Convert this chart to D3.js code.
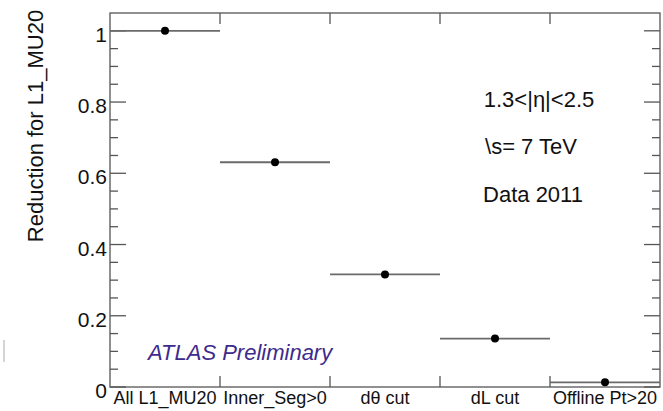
<!DOCTYPE html>
<html><head><meta charset="utf-8">
<script src="https://cdn.jsdelivr.net/npm/d3@7"></script>
<style>body{margin:0;background:#fff}svg{display:block}text{font-family:"Liberation Sans",Arial,sans-serif}</style>
</head><body>
<script>
const categories = ["All L1_MU20","Inner_Seg>0","d\u03b8 cut","dL cut","Offline Pt>20"];
const values = [1.0, 0.631, 0.316, 0.136, 0.013];
const yTicks = [0, 0.2, 0.4, 0.6, 0.8, 1];
const infoLines = ["1.3<|\u03b7|<2.5", "\\s= 7 TeV", "Data 2011"];

const W = 663, H = 411;
const m = {l:110, r:3, t:13, b:24};
const svg = d3.select("body").append("svg").attr("width", W).attr("height", H);

const x = d3.scaleBand().domain(categories).range([m.l, W - m.r]).padding(0);
const y = d3.scaleLinear().domain([0, 1.05]).range([H - m.b, m.t]);
const axisCol = "#555";
const FONT = "Liberation Sans, Arial, sans-serif";

// frame
svg.append("rect").attr("x", m.l).attr("y", m.t).attr("width", W - m.r - m.l).attr("height", H - m.b - m.t)
  .attr("fill", "none").attr("stroke", axisCol).attr("stroke-width", 1.3);

// left/right axis major + minor ticks
const minor = d3.range(0, 1.0001, 0.05);
minor.forEach(v => {
  const isMaj = Math.abs(v * 5 - Math.round(v * 5)) < 1e-6;
  const len = isMaj ? 16 : 8;
  svg.append("line").attr("x1", m.l).attr("x2", m.l + len).attr("y1", y(v)).attr("y2", y(v)).attr("stroke", axisCol).attr("stroke-width", 1.3);
  svg.append("line").attr("x1", W - m.r).attr("x2", W - m.r - len).attr("y1", y(v)).attr("y2", y(v)).attr("stroke", axisCol).attr("stroke-width", 1.3);
});
const yAxis = d3.axisLeft(y).tickValues(yTicks).tickSize(0).tickPadding(3).tickFormat(d => d === 0 ? "0" : d === 1 ? "1" : d3.format(".1f")(d));
const ya = svg.append("g").attr("transform", `translate(${m.l},0)`).call(yAxis);
ya.select(".domain").remove();
ya.selectAll("text").attr("font-size", 21).attr("fill", "#111").attr("font-family", FONT).attr("dy", "0.5em");

// bin edge ticks top & bottom
const edges = categories.slice(1).map(c => x(c));
edges.forEach(e => {
  svg.append("line").attr("x1", e).attr("x2", e).attr("y1", H - m.b).attr("y2", H - m.b - 11).attr("stroke", axisCol).attr("stroke-width", 1.3);
  svg.append("line").attr("x1", e).attr("x2", e).attr("y1", m.t).attr("y2", m.t + 11).attr("stroke", axisCol).attr("stroke-width", 1.3);
});

// category labels
const xAxis = d3.axisBottom(x).tickSize(0).tickPadding(4);
const xa = svg.append("g").attr("transform", `translate(0,${H - m.b})`).call(xAxis);
xa.select(".domain").remove();
xa.selectAll("text").attr("font-size", 18).attr("fill", "#111").attr("font-family", FONT);

// error bars & points
const pts = svg.append("g");
categories.forEach((c, i) => {
  pts.append("line").attr("x1", x(c)).attr("x2", x(c) + x.bandwidth()).attr("y1", y(values[i])).attr("y2", y(values[i]))
    .attr("stroke", "#6a6a6a").attr("stroke-width", 1.8);
  pts.append("circle").attr("cx", x(c) + x.bandwidth() / 2).attr("cy", y(values[i])).attr("r", 4).attr("fill", "#000");
});

// y title
svg.append("text").attr("transform", `translate(43,126) rotate(-90)`).attr("text-anchor", "middle")
  .attr("font-size", 22).attr("fill", "#111").text("Reduction for L1_MU20");

// info text
const infoY = [107, 154, 202];
const infoX = [539, 531, 533];
infoLines.forEach((t, i) => {
  svg.append("text").attr("x", infoX[i]).attr("y", infoY[i]).attr("text-anchor", "middle").attr("font-size", 22).attr("fill", "#111").text(t);
});

svg.append("text").attr("x", 148).attr("y", 360).attr("font-size", 22).attr("font-style", "italic")
  .attr("fill", "#3d2b8c").text("ATLAS Preliminary");

// small stray mark at left
svg.append("line").attr("x1", 4).attr("x2", 4).attr("y1", 340).attr("y2", 362).attr("stroke", "#aaa").attr("stroke-width", 1);
</script>
</body></html>
